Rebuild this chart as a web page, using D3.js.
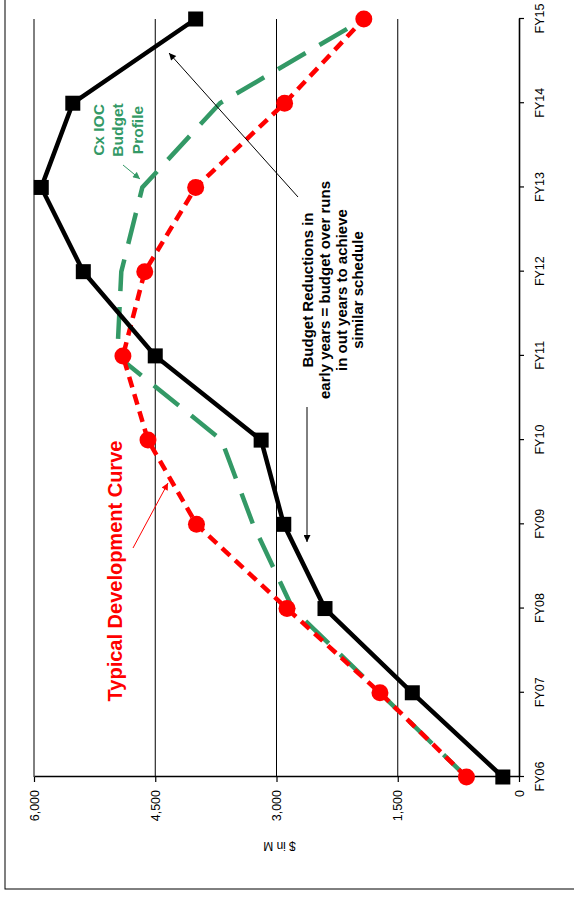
<!DOCTYPE html>
<html>
<head>
<meta charset="utf-8">
<script src="https://cdn.jsdelivr.net/npm/d3@7"></script>
<style>
  html, body { margin: 0; padding: 0; background: #fff; }
  svg { display: block; }
  text { font-family: Arial, "Liberation Sans", sans-serif; }
</style>
</head>
<body>
<svg id="chart" width="574" height="901"></svg>
<script>
// Fiscal-year categories and the three funding profiles ($M)
const fiscalYears = ["FY06", "FY07", "FY08", "FY09", "FY10", "FY11", "FY12", "FY13", "FY14", "FY15"];
const budgetRunout = [200, 1320, 2400, 2910, 3190, 4500, 5390, 5910, 5520, 4000];
const typicalCurve = [650, 1720, 2870, 3990, 4590, 4900, 4630, 4000, 2900, 1920];
const iocProfile   = [650, 1720, 2800, 3290, 3680, 4970, 4920, 4660, 3700, 1920];
const valueTicks   = [0, 1500, 3000, 4500, 6000];

// The chart is laid out landscape (W x H) and turned a quarter turn onto the page
const W = 901, H = 574;
const svg = d3.select("#chart");
const g = svg.append("g").attr("transform", `translate(0,${W}) rotate(-90)`);

const defs = svg.append("defs");
function arrowMarker(id, color) {
  defs.append("marker")
    .attr("id", id)
    .attr("viewBox", "0 0 10 10")
    .attr("refX", 10).attr("refY", 5)
    .attr("markerWidth", 9).attr("markerHeight", 7)
    .attr("markerUnits", "userSpaceOnUse")
    .attr("orient", "auto")
    .append("path").attr("d", "M0,0 L10,5 L0,10 Z").attr("fill", color);
}
arrowMarker("arrowBlack", "#000");
arrowMarker("arrowRed", "#ff0000");
arrowMarker("arrowGreen", "#339966");

// outer frame
g.append("rect")
  .attr("x", 12).attr("y", 5)
  .attr("width", W + 20).attr("height", H + 20)
  .attr("fill", "none").attr("stroke", "#000").attr("stroke-width", 1);

const x = d3.scalePoint().domain(fiscalYears).range([124, 882]);
const y = d3.scaleLinear().domain([0, 6000]).range([519, 34]);

// horizontal gridlines
g.append("g").selectAll("line")
  .data(valueTicks.filter(v => v > 0))
  .join("line")
  .attr("x1", x.range()[0]).attr("x2", x.range()[1])
  .attr("y1", d => y(d)).attr("y2", d => y(d))
  .attr("stroke", "#000").attr("stroke-width", 1);

// value axis
const yAxis = g.append("g")
  .attr("transform", `translate(${x.range()[0]},0)`)
  .call(d3.axisLeft(y).tickValues(valueTicks).tickFormat(d3.format(","))
    .tickSize(5).tickSizeOuter(0).tickPadding(8));
// category axis
const xAxis = g.append("g")
  .attr("transform", `translate(0,${y(0)})`)
  .call(d3.axisBottom(x).tickSize(5).tickSizeOuter(0).tickPadding(11.5));

[yAxis, xAxis].forEach(ax => {
  ax.select(".domain").attr("stroke", "#000").attr("stroke-width", 1.6);
  ax.selectAll(".tick line").attr("stroke", "#000").attr("stroke-width", 1.2);
  ax.selectAll(".tick text").attr("fill", "#000")
    .style("font-size", "12.5px").style("font-family", "Arial, 'Liberation Sans', sans-serif");
});

// value axis title
g.append("text")
  .attr("transform", `translate(55,${(y(0) + y(6000)) / 2 + 3}) rotate(-90)`)
  .attr("text-anchor", "middle").attr("dy", "0.35em")
  .style("font-size", "12px").attr("fill", "#000")
  .text("$ in M");

const line = d3.line()
  .x((d, i) => x(fiscalYears[i]))
  .y(d => y(d));

// Cx IOC budget profile (long dash, no markers)
g.append("path").datum(iocProfile)
  .attr("d", line).attr("fill", "none")
  .attr("stroke", "#339966").attr("stroke-width", 4.5)
  .attr("stroke-dasharray", "32,16");

// typical development curve (short dash + round markers)
g.append("path").datum(typicalCurve)
  .attr("d", line).attr("fill", "none")
  .attr("stroke", "#ff0000").attr("stroke-width", 4.5)
  .attr("stroke-dasharray", "11,7");
g.append("g").selectAll("circle").data(typicalCurve).join("circle")
  .attr("cx", (d, i) => x(fiscalYears[i])).attr("cy", d => y(d))
  .attr("r", 8.5).attr("fill", "#ff0000");

// budget line (solid + square markers)
g.append("path").datum(budgetRunout)
  .attr("d", line).attr("fill", "none")
  .attr("stroke", "#000").attr("stroke-width", 4.5)
  .attr("stroke-linejoin", "miter");
const sq = 15;
g.append("g").selectAll("rect").data(budgetRunout).join("rect")
  .attr("x", (d, i) => x(fiscalYears[i]) - sq / 2).attr("y", d => y(d) - sq / 2)
  .attr("width", sq).attr("height", sq).attr("fill", "#000");

// annotations
g.append("text")
  .attr("x", 330).attr("y", 122).attr("text-anchor", "middle")
  .style("font-size", "20px").style("font-weight", "bold").attr("fill", "#ff0000")
  .text("Typical Development Curve");
g.append("line")
  .attr("x1", 353).attr("y1", 133).attr("x2", 418).attr("y2", 168)
  .attr("stroke", "#ff0000").attr("stroke-width", 1)
  .attr("marker-end", "url(#arrowRed)");

const iocLabel = ["Cx IOC", "Budget", "Profile"];
g.append("text")
  .attr("text-anchor", "middle")
  .style("font-size", "15.5px").style("font-weight", "bold").attr("fill", "#339966")
  .selectAll("tspan").data(iocLabel).join("tspan")
  .attr("x", 771).attr("y", (d, i) => 103.5 + i * 19.5)
  .text(d => d);
g.append("line")
  .attr("x1", 736).attr("y1", 123).attr("x2", 722).attr("y2", 140)
  .attr("stroke", "#339966").attr("stroke-width", 1)
  .attr("marker-end", "url(#arrowGreen)");

const noteLines = ["Budget Reductions in", "early years = budget over runs", "in out years to achieve", "similar schedule"];
g.append("text")
  .attr("text-anchor", "middle")
  .style("font-size", "15px").style("font-weight", "bold").attr("fill", "#000")
  .selectAll("tspan").data(noteLines).join("tspan")
  .attr("x", 611).attr("y", (d, i) => 313 + i * 16.8)
  .text(d => d);
g.append("line")
  .attr("x1", 704).attr("y1", 298).attr("x2", 848).attr("y2", 169)
  .attr("stroke", "#000").attr("stroke-width", 1)
  .attr("marker-end", "url(#arrowBlack)");
g.append("line")
  .attr("x1", 494).attr("y1", 307).attr("x2", 359).attr("y2", 307)
  .attr("stroke", "#000").attr("stroke-width", 1)
  .attr("marker-end", "url(#arrowBlack)");
</script>
</body>
</html>
